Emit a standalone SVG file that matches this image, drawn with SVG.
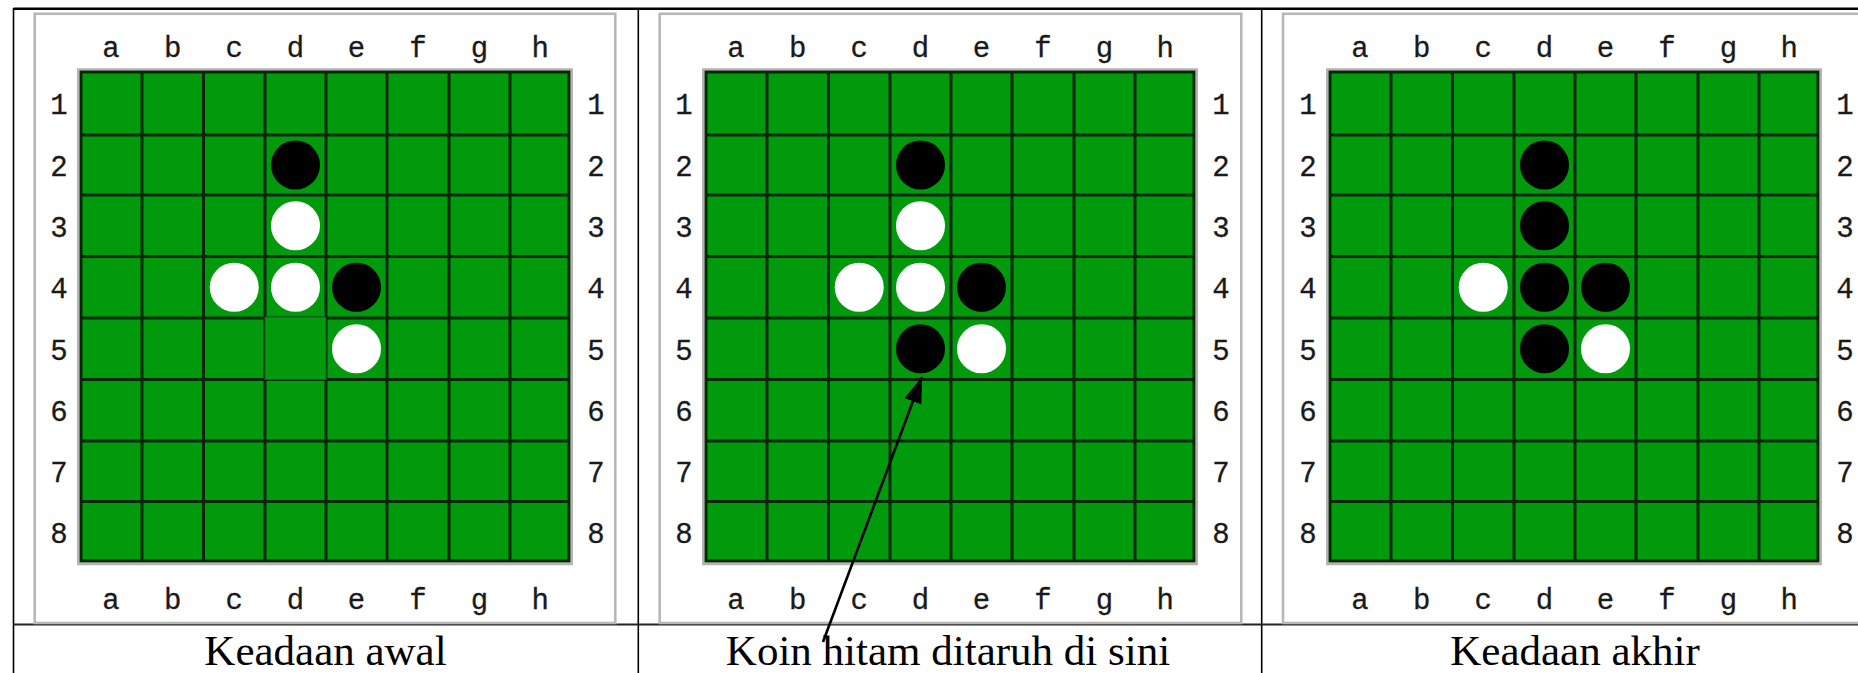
<svg xmlns="http://www.w3.org/2000/svg" width="1858" height="673" viewBox="0 0 1858 673">
<style>
.bg{fill:#ffffff}
.tbl{stroke:#000;stroke-width:1.6;fill:none}
.frame{fill:#ffffff;stroke:#b8b8b8;stroke-width:2.6}
.bgray{fill:none;stroke:#b4b4b4;stroke-width:2.5}
.green{fill:#019a0d;stroke:#062806;stroke-width:3}
.grid{stroke:#062806;stroke-width:3;fill:none}
.lbl{font-family:"Liberation Mono","Courier New",monospace;font-size:29px;fill:#1a1a1a;text-anchor:middle;stroke:#1a1a1a;stroke-width:0.3}
.cap{font-family:"Liberation Serif","Times New Roman",serif;font-size:43px;fill:#000;text-anchor:middle}
.blk{fill:#000}
.wht{fill:#fff}
.conn{stroke:#000;stroke-width:2.6;fill:none}
</style>
<defs>
<marker id="ah" markerUnits="userSpaceOnUse" markerWidth="30" markerHeight="20" refX="26" refY="9" orient="auto" viewBox="0 0 30 20">
<path d="M0,0 L26,9 L0,18 Z" fill="#000"/>
</marker>
</defs>
<rect class="bg" x="0" y="0" width="1858" height="673"/>

<g id="table">
<line class="tbl" x1="13.5" y1="8.8" x2="1858" y2="8.8" style="stroke-width:2.6"/>
<line class="tbl" x1="13.5" y1="8" x2="13.5" y2="673"/>
<line class="tbl" x1="638.3" y1="8" x2="638.3" y2="673"/>
<line class="tbl" x1="1261.7" y1="8" x2="1261.7" y2="673"/>
<line class="tbl" x1="13.5" y1="624.5" x2="1858" y2="624.5" style="stroke:#222;stroke-width:2.2"/>
</g>

<g id="board1" transform="translate(77,0)">
<rect class="frame" x="-42.3" y="13.8" width="580.6" height="609.2"/>
<rect class="bgray" x="1.25" y="69.5" width="493.5" height="494.5"/>
<rect class="green" x="4" y="72" width="488" height="489"/>
<path class="grid" d="M65,72V561M126.5,72V561M188,72V561M249,72V561M310,72V561M372,72V561M433,72V561M4,135H492M4,195H492M4,256.5H492M4,318H492M4,379.5H492M4,441H492M4,501.5H492"/>
<rect x="188" y="317" width="61" height="62.5" fill="#019a0d" stroke="#1d5a1d" stroke-width="1"/>
<text class="lbl" x="34" y="57">a</text><text class="lbl" x="95.75" y="57">b</text><text class="lbl" x="157.25" y="57">c</text><text class="lbl" x="218.5" y="57">d</text><text class="lbl" x="279.5" y="57">e</text><text class="lbl" x="341" y="57">f</text><text class="lbl" x="402.5" y="57">g</text><text class="lbl" x="463.25" y="57">h</text>
<text class="lbl" x="34" y="609">a</text><text class="lbl" x="95.75" y="609">b</text><text class="lbl" x="157.25" y="609">c</text><text class="lbl" x="218.5" y="609">d</text><text class="lbl" x="279.5" y="609">e</text><text class="lbl" x="341" y="609">f</text><text class="lbl" x="402.5" y="609">g</text><text class="lbl" x="463.25" y="609">h</text>
<text class="lbl" x="-18" y="114">1</text><text class="lbl" x="-18" y="176">2</text><text class="lbl" x="-18" y="236.75">3</text><text class="lbl" x="-18" y="298.25">4</text><text class="lbl" x="-18" y="359.75">5</text><text class="lbl" x="-18" y="421.25">6</text><text class="lbl" x="-18" y="482.25">7</text><text class="lbl" x="-18" y="543.25">8</text>
<text class="lbl" x="519" y="114">1</text><text class="lbl" x="519" y="176">2</text><text class="lbl" x="519" y="236.75">3</text><text class="lbl" x="519" y="298.25">4</text><text class="lbl" x="519" y="359.75">5</text><text class="lbl" x="519" y="421.25">6</text><text class="lbl" x="519" y="482.25">7</text><text class="lbl" x="519" y="543.25">8</text>
<circle class="blk" cx="218.5" cy="165" r="24.5"/>
<circle class="wht" cx="218.5" cy="225.75" r="24.5"/>
<circle class="wht" cx="157.25" cy="287.25" r="24.5"/>
<circle class="wht" cx="218.5" cy="287.25" r="24.5"/>
<circle class="blk" cx="279.5" cy="287.25" r="24.5"/>
<circle class="wht" cx="279.5" cy="348.75" r="24.5"/>
</g>

<g id="board2" transform="translate(702,0)">
<rect class="frame" x="-42.3" y="13.8" width="581.6" height="609.2"/>
<rect class="bgray" x="1.25" y="69.5" width="493.5" height="494.5"/>
<rect class="green" x="4" y="72" width="488" height="489"/>
<path class="grid" d="M65,72V561M126.5,72V561M188,72V561M249,72V561M310,72V561M372,72V561M433,72V561M4,135H492M4,195H492M4,256.5H492M4,318H492M4,379.5H492M4,441H492M4,501.5H492"/>
<text class="lbl" x="34" y="57">a</text><text class="lbl" x="95.75" y="57">b</text><text class="lbl" x="157.25" y="57">c</text><text class="lbl" x="218.5" y="57">d</text><text class="lbl" x="279.5" y="57">e</text><text class="lbl" x="341" y="57">f</text><text class="lbl" x="402.5" y="57">g</text><text class="lbl" x="463.25" y="57">h</text>
<text class="lbl" x="34" y="609">a</text><text class="lbl" x="95.75" y="609">b</text><text class="lbl" x="157.25" y="609">c</text><text class="lbl" x="218.5" y="609">d</text><text class="lbl" x="279.5" y="609">e</text><text class="lbl" x="341" y="609">f</text><text class="lbl" x="402.5" y="609">g</text><text class="lbl" x="463.25" y="609">h</text>
<text class="lbl" x="-18" y="114">1</text><text class="lbl" x="-18" y="176">2</text><text class="lbl" x="-18" y="236.75">3</text><text class="lbl" x="-18" y="298.25">4</text><text class="lbl" x="-18" y="359.75">5</text><text class="lbl" x="-18" y="421.25">6</text><text class="lbl" x="-18" y="482.25">7</text><text class="lbl" x="-18" y="543.25">8</text>
<text class="lbl" x="519" y="114">1</text><text class="lbl" x="519" y="176">2</text><text class="lbl" x="519" y="236.75">3</text><text class="lbl" x="519" y="298.25">4</text><text class="lbl" x="519" y="359.75">5</text><text class="lbl" x="519" y="421.25">6</text><text class="lbl" x="519" y="482.25">7</text><text class="lbl" x="519" y="543.25">8</text>
<circle class="blk" cx="218.5" cy="165" r="24.5"/>
<circle class="wht" cx="218.5" cy="225.75" r="24.5"/>
<circle class="wht" cx="157.25" cy="287.25" r="24.5"/>
<circle class="wht" cx="218.5" cy="287.25" r="24.5"/>
<circle class="blk" cx="279.5" cy="287.25" r="24.5"/>
<circle class="blk" cx="218.5" cy="348.75" r="24.5"/>
<circle class="wht" cx="279.5" cy="348.75" r="24.5"/>
</g>

<g id="board3" transform="translate(1326,0)">
<rect class="frame" x="-43" y="13.8" width="581.6" height="609.2"/>
<rect class="bgray" x="1.25" y="69.5" width="493.5" height="494.5"/>
<rect class="green" x="4" y="72" width="488" height="489"/>
<path class="grid" d="M65,72V561M126.5,72V561M188,72V561M249,72V561M310,72V561M372,72V561M433,72V561M4,135H492M4,195H492M4,256.5H492M4,318H492M4,379.5H492M4,441H492M4,501.5H492"/>
<text class="lbl" x="34" y="57">a</text><text class="lbl" x="95.75" y="57">b</text><text class="lbl" x="157.25" y="57">c</text><text class="lbl" x="218.5" y="57">d</text><text class="lbl" x="279.5" y="57">e</text><text class="lbl" x="341" y="57">f</text><text class="lbl" x="402.5" y="57">g</text><text class="lbl" x="463.25" y="57">h</text>
<text class="lbl" x="34" y="609">a</text><text class="lbl" x="95.75" y="609">b</text><text class="lbl" x="157.25" y="609">c</text><text class="lbl" x="218.5" y="609">d</text><text class="lbl" x="279.5" y="609">e</text><text class="lbl" x="341" y="609">f</text><text class="lbl" x="402.5" y="609">g</text><text class="lbl" x="463.25" y="609">h</text>
<text class="lbl" x="-18" y="114">1</text><text class="lbl" x="-18" y="176">2</text><text class="lbl" x="-18" y="236.75">3</text><text class="lbl" x="-18" y="298.25">4</text><text class="lbl" x="-18" y="359.75">5</text><text class="lbl" x="-18" y="421.25">6</text><text class="lbl" x="-18" y="482.25">7</text><text class="lbl" x="-18" y="543.25">8</text>
<text class="lbl" x="519" y="114">1</text><text class="lbl" x="519" y="176">2</text><text class="lbl" x="519" y="236.75">3</text><text class="lbl" x="519" y="298.25">4</text><text class="lbl" x="519" y="359.75">5</text><text class="lbl" x="519" y="421.25">6</text><text class="lbl" x="519" y="482.25">7</text><text class="lbl" x="519" y="543.25">8</text>
<circle class="blk" cx="218.5" cy="165" r="24.5"/>
<circle class="blk" cx="218.5" cy="225.75" r="24.5"/>
<circle class="wht" cx="157.25" cy="287.25" r="24.5"/>
<circle class="blk" cx="218.5" cy="287.25" r="24.5"/>
<circle class="blk" cx="279.5" cy="287.25" r="24.5"/>
<circle class="blk" cx="218.5" cy="348.75" r="24.5"/>
<circle class="wht" cx="279.5" cy="348.75" r="24.5"/>
</g>

<g id="captions">
<text class="cap" x="325.5" y="665">Keadaan awal</text>
<text class="cap" x="948" y="665">Koin hitam ditaruh di sini</text>
<text class="cap" x="1575" y="665">Keadaan akhir</text>
</g>

<g id="connectors">
<line class="conn" x1="823" y1="642" x2="922" y2="377" marker-end="url(#ah)"/>
</g>
</svg>
